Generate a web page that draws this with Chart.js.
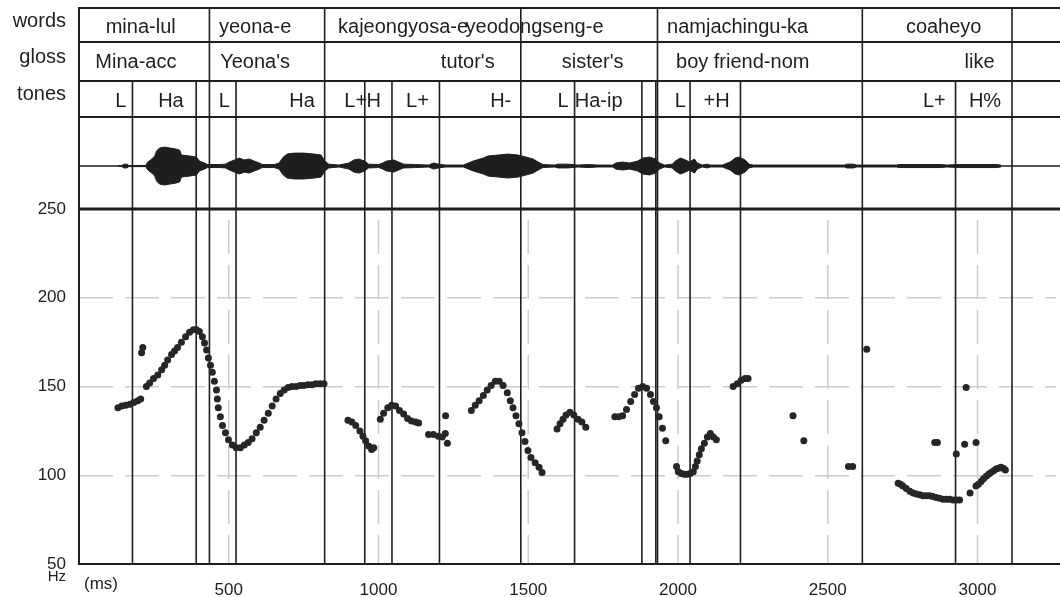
<!DOCTYPE html>
<html>
<head>
<meta charset="utf-8">
<script src="https://cdn.jsdelivr.net/npm/chart.js@4.4.1/dist/chart.umd.min.js"></script>
<style>
  html, body { margin: 0; padding: 0; background: #fff; }
  #pitchChart { display: block; }
</style>
</head>
<body>
<canvas id="pitchChart" width="1060" height="597"></canvas>
<script>
// axis ticks: time in ms, F0 in Hz
const timeTicks = [0, 500, 1000, 1500, 2000, 2500, 3000];
const hzTicks = [50, 100, 150, 200, 250];

// interval tiers (times in ms)
const wordBounds = [435.5, 820.2, 1475.1, 1931.5, 2615.4, 3115.1];
const toneBounds = [178.5, 391.3, 524.3, 954.1, 1044.9, 1203.5, 1654.6, 1879.3, 1925.9, 2040.2, 2208.5, 2926.6];

const wordLabels = ['mina-lul', 'yeona-e', 'kajeongyosa-e', 'yeodongseng-e', 'namjachingu-ka', 'coaheyo'];
const wordAt = [206, 588, 1082, 1521, 2199, 2887];

const glossLabels = ['Mina-acc', "Yeona's", "tutor's", "sister's", 'boy friend-nom', 'like'];
const glossAt = [190, 588, 1298, 1715, 2216, 3007];

const toneLabels = ['L', 'Ha', 'L', 'Ha', 'L+', 'H', 'L+', 'H-', 'L', 'Ha-ip', 'L', '+H', 'L+', 'H%'];
const toneAt = [140, 307, 485, 745, 924, 984, 1130, 1408, 1616, 1735, 2008, 2129, 2856, 3025];

// F0 track (ms, Hz)
const f0Time = [
  130, 143, 156, 170, 183, 196, 206, 209, 213,
  225, 236, 249, 263, 276, 286, 296, 309, 319, 329, 342, 356, 369, 382, 392, 402, 412, 419, 426, 432,
  439, 445, 452, 459, 462, 465, 472, 479, 489, 499, 512, 525, 539, 552, 565, 578, 592, 605, 618, 632,
  645, 658, 672, 685, 698, 711, 725, 738, 751, 765, 778, 791, 805, 818,
  898, 911, 924, 938, 948, 957, 967, 977, 984,
  1006, 1017, 1031, 1044, 1057, 1070, 1084, 1097, 1110, 1124, 1134,
  1167, 1183, 1200, 1213, 1223, 1230, 1224,
  1310, 1323, 1336, 1350, 1363, 1376, 1390, 1403, 1416, 1430, 1440, 1449, 1459, 1469, 1479, 1489, 1499,
  1509, 1523, 1536, 1546,
  1596, 1606, 1616, 1626, 1639, 1652, 1666, 1679, 1692,
  1789, 1802, 1815, 1828, 1842, 1855, 1868, 1882, 1895, 1908, 1918, 1928, 1937, 1948, 1959,
  1995, 2001, 2011, 2021, 2031, 2041, 2051, 2058, 2064, 2071, 2078, 2088, 2098, 2108, 2118, 2128,
  2184, 2198, 2211, 2224, 2234,
  2384, 2420, 2569, 2583, 2630,
  2735, 2743, 2751, 2762, 2774, 2785, 2796, 2807, 2818, 2829, 2840, 2851, 2862, 2873, 2885, 2896, 2907,
  2918, 2929, 2940, 2975, 2995, 3003, 3012, 3020, 3029, 3037, 3045, 3054, 3062, 3070, 3078, 3086, 3093,
  2857, 2866, 2929, 2957, 2995, 2962
];
const f0Hz = [
  138, 139, 139.5, 140, 141, 142, 143, 169, 172,
  150, 152, 154.5, 156.5, 159.5, 162, 165, 168, 170, 172, 175, 178, 180.5, 182, 182, 181, 178, 174.5, 170.5, 166,
  162, 158, 153, 148, 143, 138, 133, 128, 124, 120, 117, 115.5, 115.5, 117, 118.5, 120.5, 124, 127, 131, 135,
  139, 143, 146, 148, 149.5, 150, 150, 150.5, 150.5, 151, 151, 151.5, 151.5, 151.5,
  131, 130, 128, 125, 122, 119.5, 116.5, 114.5, 115.5,
  131.5, 135, 138, 139.5, 139, 136.5, 134.5, 132, 130.5, 130, 129.5,
  123, 123, 122, 121.5, 123.5, 118, 133.5,
  136.5, 139.5, 142, 145, 148, 150.5, 153, 153, 150.5, 146.5, 142, 138, 133.5, 129, 124, 119, 114,
  110, 107, 104.5, 101.5,
  126, 129, 131.5, 134, 135.5, 134, 131.5, 130, 127,
  133, 133, 133.5, 137, 141.5, 145.5, 149, 150, 149, 145.5, 141.5, 138, 133, 126.5, 119.5,
  105, 102, 101, 100.5, 100.5, 101, 102, 105, 108, 111.5, 115, 118, 121.5, 123.5, 121.5, 120,
  150, 151.5, 153.5, 154.5, 154.5,
  133.5, 119.5, 105, 105, 171,
  95.5, 95, 94, 92.5, 91, 90, 89.5, 89, 88.5, 88.5, 88.5, 88, 87.5, 87, 86.5, 86.5, 86.5,
  86, 86, 86, 90, 94, 95, 96.5, 98, 99.5, 100.5, 101.5, 102.5, 103.5, 104, 104.5, 104, 103,
  118.5, 118.5, 112, 117.5, 118.5, 149.5
];

// waveform amplitude envelope (ms, relative amplitude)
const waveTime = [
  130, 143, 150, 160, 166, 223, 229, 243, 253, 259, 269, 286, 303, 322, 336, 342, 369, 392, 402, 419,
  429, 469, 489, 502, 519, 535, 552, 568, 585, 602, 612, 652, 668, 682, 695, 718, 751, 785, 808, 821,
  834, 868, 901, 918, 934, 954, 967, 1001, 1014, 1027, 1051, 1067, 1084, 1124, 1167, 1184, 1200, 1223,
  1283, 1300, 1316, 1350, 1366, 1400, 1433, 1466, 1493, 1516, 1533, 1549, 1589, 1599, 1632, 1666, 1699,
  1732, 1782, 1792, 1815, 1838, 1865, 1882, 1905, 1925, 1938, 1955, 1981, 1991, 2008, 2025, 2038, 2055,
  2064, 2081, 2098, 2108, 2148, 2174, 2191, 2204, 2224, 2237, 2251, 2557, 2563, 2586, 2596, 2729, 2739,
  2879, 2896, 2939, 3062, 3078
];
const waveAmp = [
  0, 0.03, 0.1, 0.1, 0.03, 0.03, 0.2, 0.37, 0.53, 0.79, 0.95, 1.0, 0.95, 0.9, 0.84, 0.58, 0.53, 0.47, 0.26, 0.16,
  0.08, 0.08, 0.1, 0.21, 0.32, 0.42, 0.32, 0.37, 0.26, 0.16, 0.08, 0.08, 0.16, 0.47, 0.63, 0.68, 0.68, 0.63, 0.58, 0.26,
  0.1, 0.05, 0.16, 0.32, 0.37, 0.26, 0.1, 0.08, 0.16, 0.26, 0.32, 0.21, 0.1, 0.08, 0.05, 0.16, 0.1, 0.05,
  0.05, 0.16, 0.26, 0.42, 0.53, 0.58, 0.63, 0.58, 0.47, 0.37, 0.21, 0.08, 0.05, 0.1, 0.1, 0.05, 0.08,
  0.05, 0.05, 0.16, 0.21, 0.16, 0.26, 0.42, 0.47, 0.37, 0.16, 0.05, 0.1, 0.26, 0.42, 0.32, 0.21, 0.37,
  0.16, 0.05, 0.1, 0.05, 0.05, 0.21, 0.42, 0.47, 0.32, 0.1, 0.05, 0.05, 0.1, 0.1, 0.05, 0.05, 0.08,
  0.08, 0.05, 0.08, 0.08, 0.05
];

const FONT = "'Liberation Sans', Arial, sans-serif";
const INK = '#1e1e1e';
const GRID = '#cccccc';
const rowTops = [8, 42, 81];           // words, gloss, tones rows
const rowBase = [33, 68, 107];         // text baselines in those rows
const rowNames = ['words', 'gloss', 'tones'];
const nameBase = [27, 63, 100];

const tiersPlugin = {
  id: 'tiers',
  beforeDatasetsDraw(chart) {
    const {ctx, chartArea: area, scales: {x, y, yWave}} = chart;
    const right = chart.width;
    ctx.save();

    // dashed time grid inside the F0 panel
    ctx.strokeStyle = GRID;
    ctx.lineWidth = 1.5;
    ctx.setLineDash([34, 11]);
    timeTicks.forEach(t => {
      if (!t) return;
      const px = x.getPixelForValue(t);
      ctx.beginPath();
      ctx.moveTo(px, y.top + 11);
      ctx.lineTo(px, y.bottom);
      ctx.stroke();
    });
    ctx.setLineDash([]);

    // waveform zero line
    ctx.strokeStyle = INK;
    ctx.lineWidth = 1.5;
    const y0 = yWave.getPixelForValue(0);
    ctx.beginPath();
    ctx.moveTo(area.left, y0);
    ctx.lineTo(right, y0);
    ctx.stroke();

    // interval boundaries
    ctx.lineWidth = 1.6;
    const vline = (t, top) => {
      const px = x.getPixelForValue(t);
      ctx.beginPath();
      ctx.moveTo(px, top);
      ctx.lineTo(px, area.bottom);
      ctx.stroke();
    };
    wordBounds.forEach(t => vline(t, rowTops[0]));
    toneBounds.forEach(t => vline(t, rowTops[2]));

    // frame
    const hline = (py, w) => {
      ctx.lineWidth = w;
      ctx.beginPath();
      ctx.moveTo(area.left - 1, py);
      ctx.lineTo(right, py);
      ctx.stroke();
    };
    rowTops.forEach(py => hline(py, 2));
    hline(area.top, 2);
    hline(y.top, 3);
    hline(area.bottom, 2);
    ctx.lineWidth = 2;
    ctx.beginPath();
    ctx.moveTo(area.left, rowTops[0]);
    ctx.lineTo(area.left, area.bottom + 1);
    ctx.stroke();
    ctx.restore();
  },
  afterDraw(chart) {
    const {ctx, scales: {x, y}} = chart;
    ctx.save();
    ctx.fillStyle = INK;
    ctx.font = '20px ' + FONT;
    ctx.textBaseline = 'alphabetic';

    ctx.textAlign = 'right';
    rowNames.forEach((n, i) => ctx.fillText(n, 66, nameBase[i]));

    ctx.textAlign = 'center';
    const row = (labels, at, base) => labels.forEach((s, i) => ctx.fillText(s, x.getPixelForValue(at[i]), base));
    row(wordLabels, wordAt, rowBase[0]);
    row(glossLabels, glossAt, rowBase[1]);
    row(toneLabels, toneAt, rowBase[2]);

    // axis units
    ctx.font = '15px ' + FONT;
    ctx.textAlign = 'right';
    ctx.fillText('Hz', 66, y.bottom + 17);
    ctx.font = '17px ' + FONT;
    ctx.textAlign = 'center';
    ctx.fillText('(ms)', x.left + 22, 589);
    ctx.restore();
  }
};

const tickFont = {size: 17, family: FONT};

new Chart(document.getElementById('pitchChart'), {
  type: 'scatter',
  data: {
    datasets: [
      {
        type: 'line',
        yAxisID: 'yWave',
        data: waveTime.map((t, i) => ({x: t, y: waveAmp[i]})),
        borderColor: INK,
        borderWidth: 1,
        pointRadius: 0,
        fill: false
      },
      {
        type: 'line',
        yAxisID: 'yWave',
        data: waveTime.map((t, i) => ({x: t, y: -waveAmp[i]})),
        borderColor: INK,
        borderWidth: 1,
        pointRadius: 0,
        backgroundColor: INK,
        fill: '-1'
      },
      {
        yAxisID: 'y',
        data: f0Time.map((t, i) => ({x: t, y: f0Hz[i]})),
        pointRadius: 3.5,
        pointBackgroundColor: '#262626',
        pointBorderWidth: 0
      }
    ]
  },
  options: {
    responsive: false,
    animation: false,
    devicePixelRatio: 1,
    layout: {padding: {top: 117, left: 0, right: 0, bottom: 0}},
    plugins: {
      legend: {display: false},
      tooltip: {enabled: false}
    },
    scales: {
      x: {
        type: 'linear',
        min: 0,
        max: 3262,
        afterBuildTicks: s => { s.ticks = timeTicks.map(v => ({value: v})); },
        afterFit: s => { s.height = 33; },
        grid: {display: false},
        border: {display: false},
        ticks: {
          padding: 8,
          color: INK,
          font: tickFont,
          maxRotation: 0,
          callback: v => (v ? v : '')
        }
      },
      y: {
        position: 'left',
        stack: 'panels',
        stackWeight: 355,
        weight: 0,
        min: 50,
        max: 250,
        afterBuildTicks: s => { s.ticks = hzTicks.map(v => ({value: v})); },
        afterFit: s => { s.width = 79; },
        grid: {color: GRID, lineWidth: 1.5, drawTicks: false},
        border: {display: false, dash: [34, 12]},
        ticks: {padding: 13, color: INK, font: tickFont}
      },
      yWave: {
        position: 'left',
        stack: 'panels',
        stackWeight: 92,
        weight: 1,
        min: -2.26,
        max: 2.58,
        afterFit: s => { s.width = 79; },
        grid: {display: false, drawTicks: false},
        border: {display: false},
        ticks: {display: false}
      }
    }
  },
  plugins: [tiersPlugin]
});
</script>
</body>
</html>
